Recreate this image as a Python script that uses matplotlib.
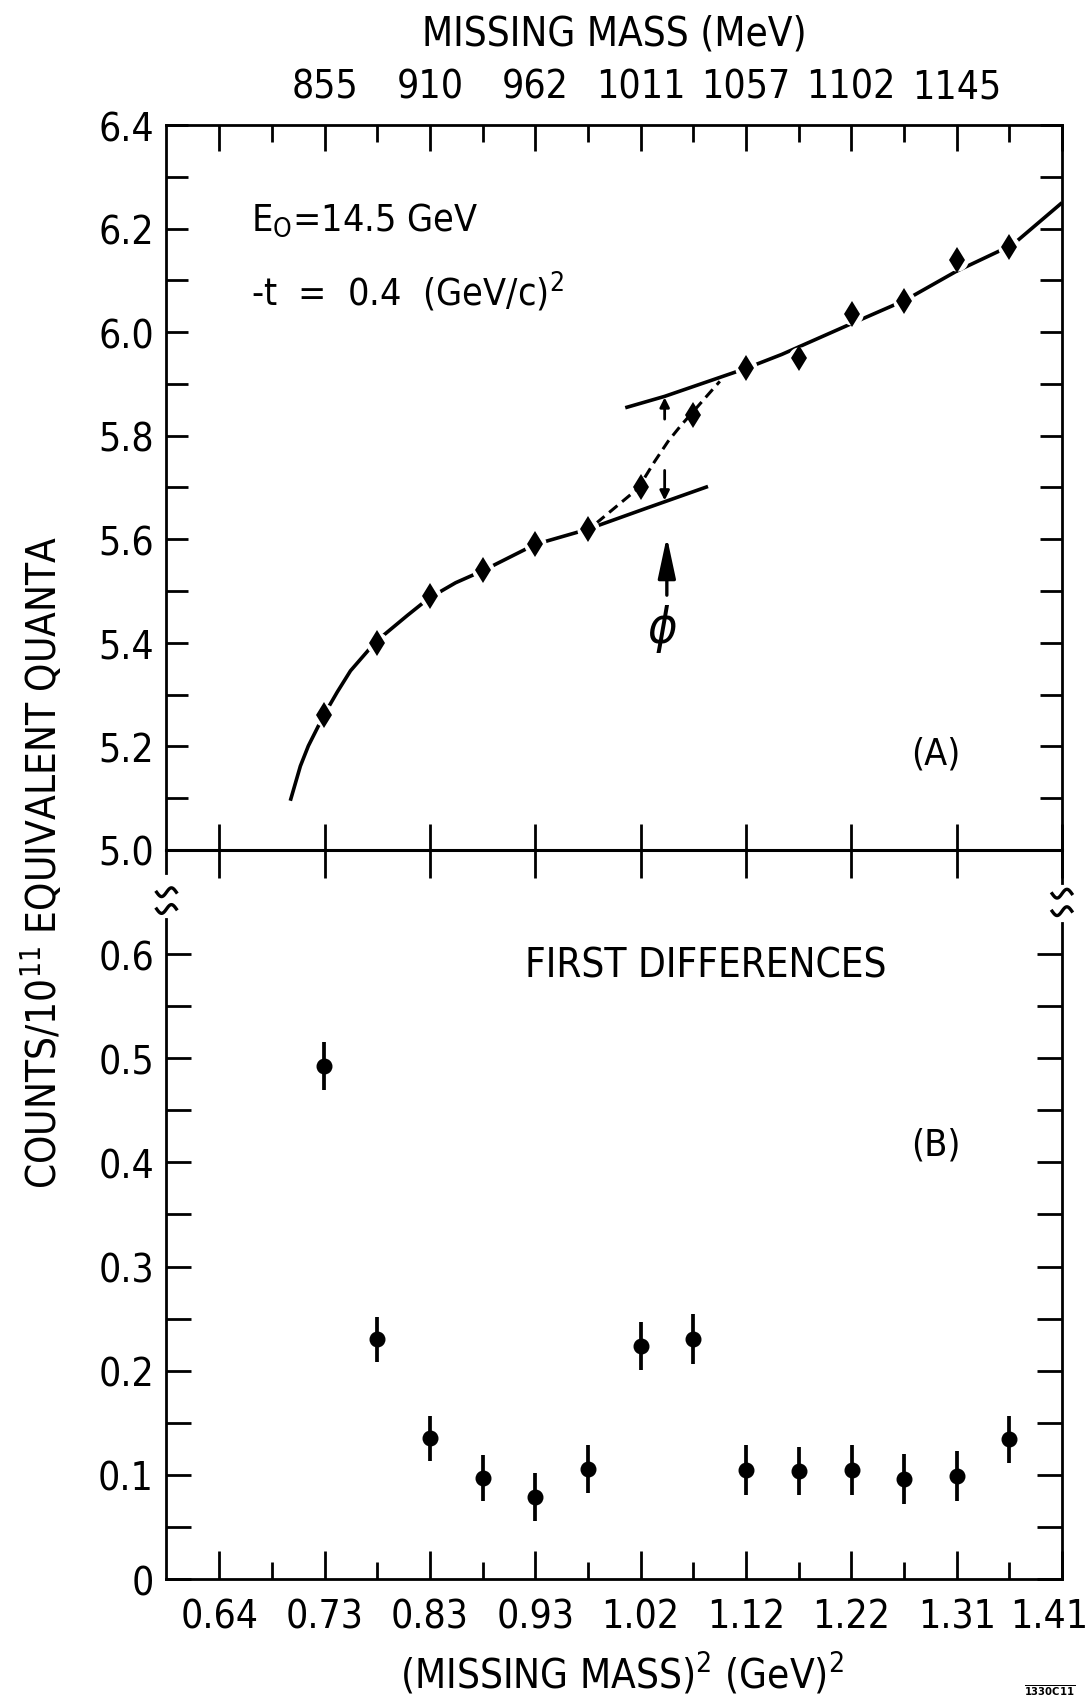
import numpy as np
import matplotlib
matplotlib.use("Agg")
import matplotlib.pyplot as plt
from matplotlib.lines import Line2D

plt.rcParams['font.family'] = ['DejaVu Sans']
plt.rcParams['font.stretch'] = 'condensed'
plt.rcParams['mathtext.fontset'] = 'dejavusans'

# ---------------- data ----------------
x_tick_labels = ['0.64', '0.73', '0.83', '0.93', '1.02', '1.12', '1.22', '1.31', '1.41']
mass_labels = ['', '855', '910', '962', '1011', '1057', '1102', '1145', '']

x_pts = [0.736, 0.784, 0.833, 0.881, 0.929, 0.977, 1.025, 1.073,
         1.121, 1.170, 1.218, 1.266, 1.314, 1.362]
quanta = [5.26, 5.40, 5.49, 5.54, 5.59, 5.62, 5.70, 5.84,
          5.93, 5.95, 6.035, 6.06, 6.14, 6.165]
first_diff = [0.493, 0.230, 0.135, 0.097, 0.079, 0.106, 0.224, 0.230,
              0.105, 0.104, 0.105, 0.096, 0.099, 0.134]
first_diff_err = [0.023, 0.022, 0.022, 0.022, 0.023, 0.023, 0.023, 0.024,
                  0.024, 0.023, 0.024, 0.024, 0.024, 0.023]

lower_x = [0.705, 0.7142, 0.7215, 0.7353, 0.7479, 0.760, 0.783, 0.812, 0.8315,
           0.856, 0.8816, 0.9286, 0.9762, 1.0317, 1.0866]
lower_y = [5.095, 5.162, 5.201, 5.259, 5.305, 5.346, 5.402, 5.453, 5.486,
           5.516, 5.540, 5.590, 5.619, 5.661, 5.702]
upper_x = [1.011, 1.047, 1.120, 1.154, 1.215, 1.267, 1.313, 1.365, 1.41]
upper_y = [5.854, 5.876, 5.929, 5.957, 6.014, 6.062, 6.117, 6.169, 6.25]
trans_x = [0.9845, 1.0226, 1.0378, 1.0501, 1.0623, 1.0721, 1.0836, 1.0974]
trans_y = [5.631, 5.698, 5.750, 5.789, 5.821, 5.844, 5.872, 5.905]

top_yticks = [5.0, 5.2, 5.4, 5.6, 5.8, 6.0, 6.2, 6.4]
top_yticklabels = ['5.0', '5.2', '5.4', '5.6', '5.8', '6.0', '6.2', '6.4']
bot_yticks = [0.0, 0.1, 0.2, 0.3, 0.4, 0.5, 0.6]
bot_yticklabels = ['0', '0.1', '0.2', '0.3', '0.4', '0.5', '0.6']

# ---------------- figure ----------------
fig = plt.figure(figsize=(10.91, 17.08), dpi=100)
L, R = 0.1526, 0.9734
MID, TOP, BOT = 0.5018, 0.9262, 0.0749
ax1 = fig.add_axes([L, MID, R - L, TOP - MID])
ax2 = fig.add_axes([L, BOT, R - L, MID - BOT])
for a in (ax1, ax2):
    a.patch.set_visible(False)
    for s in a.spines.values():
        s.set_linewidth(2.0)

xmaj = np.linspace(0.64, 1.41, len(x_tick_labels))
step = xmaj[1] - xmaj[0]
xmin_ = xmaj[:-1] + step / 2
xlim = (xmaj[0] - step / 2, xmaj[-1])

TL = 28  # tick label size

# ---- top panel ----
ax1.set_xlim(*xlim)
ax1.set_ylim(5.0, 6.4)
ax1.set_xticks(xmaj)
ax1.set_xticklabels(mass_labels)
ax1.set_xticks(xmin_, minor=True)
ax1.tick_params(axis='x', which='major', direction='in', top=True, bottom=True,
                length=19, width=2, labeltop=True, labelbottom=False,
                labelsize=TL, pad=14)
ax1.tick_params(axis='x', which='minor', direction='in', top=True, bottom=False,
                length=12, width=2)
ax1.set_yticks(top_yticks)
ax1.set_yticklabels(top_yticklabels)
ax1.set_yticks(np.arange(5.1, 6.35, 0.1), minor=True)
ax1.tick_params(axis='y', which='both', direction='in', left=True, right=True,
                length=16, width=2, labelsize=TL, pad=9)
ax1.spines['bottom'].set_linewidth(2.2)

# curves
ax1.plot(lower_x, lower_y, color='black', lw=2.6, solid_capstyle='butt', zorder=2)
ax1.plot(upper_x, upper_y, color='black', lw=2.6, solid_capstyle='butt', zorder=2,
         clip_on=False)
ax1.plot(trans_x, trans_y, color='black', lw=2.2, dashes=(3.5, 2.0), zorder=2)
halo_idx = [0, 1, 2, 3, 4, 5, 8, 9, 10, 11, 12, 13]
ax1.plot([x_pts[i] for i in halo_idx], [quanta[i] for i in halo_idx], 'o',
         ms=15, color='white', zorder=3)
ax1.plot(x_pts, quanta, 'd', ms=13.5, color='black', mew=0, zorder=4)

# small arrows showing the step
ax1.annotate('', xy=(1.047, 5.874), xytext=(1.047, 5.832),
             arrowprops=dict(arrowstyle='-|>', lw=2, color='black',
                             mutation_scale=14, shrinkA=0, shrinkB=0))
ax1.annotate('', xy=(1.047, 5.675), xytext=(1.047, 5.733),
             arrowprops=dict(arrowstyle='-|>', lw=2, color='black',
                             mutation_scale=14, shrinkA=0, shrinkB=0))
# big phi arrow
ax1.annotate('', xy=(1.049, 5.605), xytext=(1.049, 5.492),
             arrowprops=dict(arrowstyle='-|>,head_length=1.4,head_width=0.3',
                             lw=2.4, color='black', mutation_scale=18,
                             shrinkA=0, shrinkB=0))
ax1.text(1.045, 5.429, r'$\phi$', fontsize=36, ha='center', va='center')

ax1.text(0.669, 6.197, r'E$_{\mathrm{O}}$=14.5 GeV', fontsize=27, ha='left',
         va='baseline')
ax1.text(0.669, 6.052, r'-t  =  0.4  (GeV/c)$^2$', fontsize=27, ha='left',
         va='baseline')
ax1.text(1.295, 5.187, '(A)', fontsize=27, ha='center', va='center')

# ---- bottom panel ----
ax2.set_xlim(*xlim)
ax2.set_ylim(0, 0.70)
ax2.set_xticks(xmaj)
ax2.set_xticklabels(x_tick_labels[:-1] + [''])
ax2.set_xticks(xmin_, minor=True)
ax2.tick_params(axis='x', which='major', direction='in', top=True, bottom=True,
                length=20, width=2, labelsize=TL, pad=13)
ax2.tick_params(axis='x', which='minor', direction='in', top=False, bottom=True,
                length=12, width=2)
ax2.annotate(x_tick_labels[-1], xy=(xmaj[-1], 0), xycoords=('data', 'axes fraction'),
             xytext=(-9, -13), textcoords='offset points', ha='center', va='top',
             fontsize=TL)
ax2.set_yticks(bot_yticks)
ax2.set_yticklabels(bot_yticklabels)
ax2.set_yticks(np.arange(0.05, 0.6, 0.1), minor=True)
ax2.tick_params(axis='y', which='both', direction='in', left=True, right=True,
                length=18, width=2, labelsize=TL, pad=9)
ax2.spines['top'].set_visible(False)

ax2.errorbar(x_pts, first_diff, yerr=first_diff_err, fmt='o', ms=10.5,
             color='black', elinewidth=2.7, capsize=0, zorder=3)
ax2.text(1.085, 0.589, 'FIRST DIFFERENCES', fontsize=29, ha='center', va='center')
ax2.text(1.295, 0.417, '(B)', fontsize=27, ha='center', va='center')

# axis breaks on left and right spines
ax2.spines['left'].set_bounds(0, 0.70 * 0.905)
ax2.spines['right'].set_bounds(0, 0.70 * 0.900)
tr = ax2.transAxes
ax2.add_line(Line2D([0, 0], [0.968, 1.0], transform=tr, color='black', lw=2,
                    clip_on=False))
ax2.add_line(Line2D([1, 1], [0.955, 1.0], transform=tr, color='black', lw=2,
                    clip_on=False))
t = np.linspace(-1, 1, 30)
for xc, ys in ((0.0, (0.942, 0.919)), (1.0, (0.940, 0.916))):
    for yc in ys:
        ax2.add_line(Line2D(xc + 0.011 * t, yc + 0.006 * np.sin(np.pi * t),
                            transform=tr, color='black', lw=2.4, clip_on=False))

# ---- labels ----
fig.text(0.563, 0.980, 'MISSING MASS (MeV)', fontsize=29, ha='center', va='center')
fig.text(0.570, 0.0195, r'(MISSING MASS)$^2$ (GeV)$^2$', fontsize=29,
         ha='center', va='center')
fig.text(0.040, 0.495, r'COUNTS/10$^{11}$ EQUIVALENT QUANTA', fontsize=29,
         rotation=90, ha='center', va='center')
fig.text(0.962, 0.006, r'$\overline{\mathbf{1330C11}}$', fontsize=8,
         ha='center', va='bottom')

fig.savefig('out.png', dpi=100)
